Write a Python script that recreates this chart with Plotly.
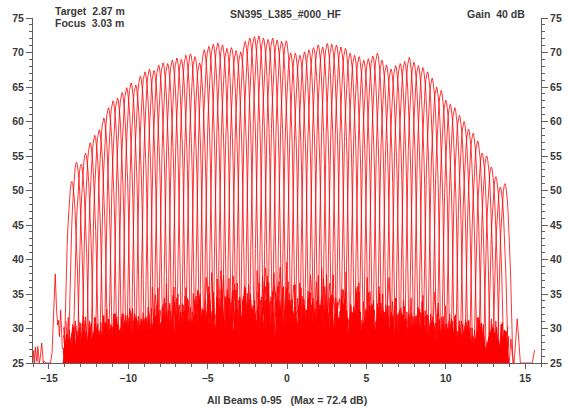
import numpy as np
import plotly.graph_objects as go

# Beam steering angles (deg) for beams 0-95
BEAM_ANGLE = [
    -13.55, -13.26, -12.97, -12.69, -12.40, -12.11, -11.83, -11.54, -11.25, -10.96,
    -10.68, -10.39, -10.10, -9.82, -9.53, -9.24, -8.95, -8.67, -8.38, -8.09,
    -7.81, -7.52, -7.23, -6.94, -6.66, -6.37, -6.08, -5.80, -5.51, -5.22,
    -4.93, -4.65, -4.36, -4.07, -3.79, -3.50, -3.21, -2.92, -2.64, -2.35,
    -2.06, -1.78, -1.49, -1.20, -0.91, -0.63, -0.34, -0.05, 0.23, 0.52,
    0.81, 1.10, 1.38, 1.67, 1.96, 2.24, 2.53, 2.82, 3.11, 3.39,
    3.68, 3.97, 4.25, 4.54, 4.83, 5.12, 5.40, 5.69, 5.98, 6.26,
    6.55, 6.84, 7.13, 7.41, 7.70, 7.99, 8.27, 8.56, 8.85, 9.14,
    9.42, 9.71, 10.00, 10.28, 10.57, 10.86, 11.15, 11.43, 11.72, 12.01,
    12.29, 12.58, 12.87, 13.16, 13.44, 13.73,
]

# Main-lobe peak level of each beam (dB)
PEAK_DB = [
    51.3, 54.1, 53.8, 55.4, 56.9, 58.0, 58.8, 60.5, 62.0, 63.0,
    63.4, 64.2, 64.9, 65.6, 65.3, 66.6, 67.2, 67.6, 67.4, 68.2,
    68.5, 68.4, 68.9, 69.2, 69.0, 69.6, 69.8, 69.4, 68.5, 70.4,
    70.9, 71.2, 71.4, 71.1, 70.6, 70.7, 70.3, 70.1, 71.6, 72.1,
    72.3, 72.4, 72.1, 71.9, 72.1, 71.8, 71.6, 71.7, 69.9, 69.9,
    69.6, 70.1, 70.4, 70.7, 71.1, 70.8, 71.3, 71.2, 71.1, 70.8,
    70.6, 69.9, 69.6, 69.4, 68.9, 69.1, 69.5, 69.9, 68.9, 68.2,
    67.6, 68.1, 68.4, 68.7, 69.3, 68.6, 68.1, 67.8, 67.2, 66.3,
    65.0, 64.5, 63.1, 62.5, 62.0, 60.9, 60.0, 58.9, 58.3, 57.2,
    55.4, 55.0, 53.4, 52.0, 50.5, 51.0,
]

# Main-lobe shape: level relative to peak (dB) versus offset from beam axis (deg)
MAIN_OFF = [0.00, 0.05, 0.10, 0.15, 0.20, 0.25, 0.30, 0.35, 0.40, 0.45, 0.50, 0.55]
MAIN_REL = [0.0, -0.3, -1.1, -2.4, -4.2, -6.5, -9.3, -12.8, -17.2, -23.0, -30.5, -40.0]

# Side-lobe envelope relative to peak (dB), by distance from beam axis (deg)
SL_EDGE = [0.55, 1.0, 1.6, 2.5, 4.0, 6.5, 10.0, 15.0, 20.0]
SL_REL = [-35.5, -37.5, -39.0, -40.5, -41.5, -42.5, -43.5, -44.5, -45.0]

# Side-lobe fine structure: peak deviations (dB), lobe widths (deg), null depths (dB)
SL_TEX = [0.0, -2.5, 1.5, -4.0, -1.0, 2.5, -6.0, -0.5, -3.0, 1.0, -5.0, 0.5, -2.0, 3.0,
          -7.0, -1.5, 2.0, -3.5, -0.5, -4.5, 1.5, -2.5, 0.0, -6.5, 2.5, -1.0, -3.0, 1.0,
          -5.5, -0.5, 3.0, -2.0, -4.0, 0.5, -1.5, 2.0, -6.0, -3.5, 1.0, -0.5, -2.5, 2.5,
          -5.0, 0.0, -1.5, 1.5, -3.0]
SL_WID = [0.22, 0.34, 0.19, 0.41, 0.27, 0.17, 0.37, 0.25, 0.44, 0.21, 0.31, 0.28, 0.39]
SL_NULL = [-8.0, -14.0, -5.0, -18.0, -11.0, -22.0, -9.0, -15.0, -6.0, -20.0, -12.0]

# Echoes outside the recorded swath
LEFT_X = [-16.0, -15.95, -15.9, -15.85, -15.75, -15.7, -15.6, -15.55, -15.45, -15.35, -15.3,
          -15.2, -15.0, -14.9, -14.8, -14.75, -14.68, -14.6, -14.52, -14.45, -14.4, -14.33,
          -14.26, -14.2, -14.15]
LEFT_DB = [25.0, 26.8, 25.0, 27.3, 25.2, 27.4, 25.0, 25.6, 27.9, 25.0, 25.3,
           25.0, 25.0, 25.0, 26.5, 29.0, 33.5, 37.9, 33.0, 30.5, 31.2, 28.8,
           32.7, 29.5, 27.0]
RIGHT_X = [14.0, 14.1, 14.2, 14.3, 14.4, 14.5, 14.58, 14.7, 14.8, 15.3, 15.45, 15.6]
RIGHT_DB = [25.0, 28.5, 26.0, 25.0, 28.0, 31.4, 29.0, 25.0, 25.0, 25.0, 25.0, 26.9]

SWATH = (-14.1, 14.0)       # recorded side-lobe span
MAIN_SPAN = (-14.3, 14.3)   # main lobes of the outer beams may run slightly past it
FLOOR = 25.0
RED = "#ff0000"
LW = 0.8


def sidelobe_level(off):
    i = int(np.searchsorted(SL_EDGE, abs(off), side="right")) - 1
    return SL_REL[min(max(i, 0), len(SL_REL) - 1)]


def beam_pattern(b, centre, peak):
    """Offsets/levels of one beam: main lobe plus side lobes on both sides."""
    sides = {}
    for s in (-1, 1):
        pts = [(o, peak + r, True) for o, r in zip(MAIN_OFF[1:], MAIN_REL[1:])]
        o, k = MAIN_OFF[-1], 0
        shift = 17 if s > 0 else 0
        while o < 30.0:
            w = SL_WID[(b + 2 * k + shift) % len(SL_WID)]
            top = peak + sidelobe_level(o + w / 2) + SL_TEX[(3 * b + 5 * k + shift) % len(SL_TEX)]
            pts.append((o + w / 2, top, False))
            low = peak + sidelobe_level(o + w) + SL_NULL[(2 * b + k + shift) % len(SL_NULL)]
            pts.append((o + w, low, False))
            o += w
            k += 1
        sides[s] = pts
    left = list(reversed(sides[-1]))
    xs = np.array([centre - o for o, _, _ in left] + [centre] + [centre + o for o, _, _ in sides[1]])
    ys = np.array([v for _, v, _ in left] + [peak] + [v for _, v, _ in sides[1]])
    main = np.array([m for _, _, m in left] + [True] + [m for _, _, m in sides[1]])
    ys = np.maximum(ys, FLOOR)
    keep = np.where(main, (xs >= MAIN_SPAN[0]) & (xs <= MAIN_SPAN[1]),
                    (xs >= SWATH[0]) & (xs <= SWATH[1]))
    return xs[keep], ys[keep]


fig = go.Figure()
for b, (c, p) in enumerate(zip(BEAM_ANGLE, PEAK_DB)):
    x, y = beam_pattern(b, c, p)
    fig.add_trace(go.Scatter(x=x, y=y, mode="lines", line=dict(color=RED, width=LW),
                             hoverinfo="skip", showlegend=False))

fig.add_trace(go.Scatter(x=LEFT_X, y=LEFT_DB, mode="lines", line=dict(color=RED, width=LW),
                         hoverinfo="skip", showlegend=False))
fig.add_trace(go.Scatter(x=RIGHT_X, y=RIGHT_DB, mode="lines", line=dict(color=RED, width=LW),
                         hoverinfo="skip", showlegend=False))
# carrier for the right-hand dB scale
fig.add_trace(go.Scatter(x=[None], y=[None], yaxis="y2", hoverinfo="skip", showlegend=False))

FONT = "Liberation Sans, Arial, sans-serif"
TXT = "#3a3a3a"
AX = "#606060"
tickfont = dict(family=FONT, size=10.5, color=TXT, weight="bold")

yax = dict(range=[25, 75], tickvals=[25, 30, 35, 40, 45, 50, 55, 60, 65, 70, 75],
           ticks="outside", ticklen=6, tickcolor=AX, tickwidth=1,
           minor=dict(dtick=1, ticks="outside", ticklen=3, tickcolor=AX, showgrid=False),
           showline=True, linecolor=AX, linewidth=1, showgrid=False, zeroline=False,
           tickfont=tickfont, fixedrange=True)

fig.update_layout(
    width=574, height=408,
    margin=dict(l=33, r=21, t=18, b=45),
    paper_bgcolor="white", plot_bgcolor="white",
    xaxis=dict(range=[-16, 16], tickvals=[-15, -10, -5, 0, 5, 10, 15],
               ticks="outside", ticklen=5, tickcolor=AX, tickwidth=1,
               minor=dict(dtick=1, ticks="outside", ticklen=3, tickcolor=AX, showgrid=False),
               showline=True, linecolor=AX, linewidth=1, showgrid=False, zeroline=False,
               tickfont=tickfont, fixedrange=True),
    yaxis=dict(side="left", **yax),
    yaxis2=dict(side="right", overlaying="y", anchor="x", **yax),
)

ann_font = dict(family=FONT, size=10.5, color=TXT, weight="bold")
annotations = [
    ("Target\u00a0\u00a02.87 m", 0.0385, 1.0203, "left"),
    ("Focus\u00a0\u00a03.03 m", 0.0385, 0.9855, "left"),
    ("SN395_L385_#000_HF", 0.498, 1.0116, "center"),
    ("Gain\u00a0\u00a040 dB", 0.85, 1.0116, "left"),
    (f"All Beams 0-{len(BEAM_ANGLE) - 1}\u00a0\u00a0\u00a0(Max = {max(PEAK_DB):.1f} dB)", 0.5, -0.107, "center"),
]
for text, x, y, anchor in annotations:
    fig.add_annotation(text=text, x=x, y=y, xref="paper", yref="paper", xanchor=anchor,
                       yanchor="middle", showarrow=False, font=ann_font)

fig.write_html("out.html")
